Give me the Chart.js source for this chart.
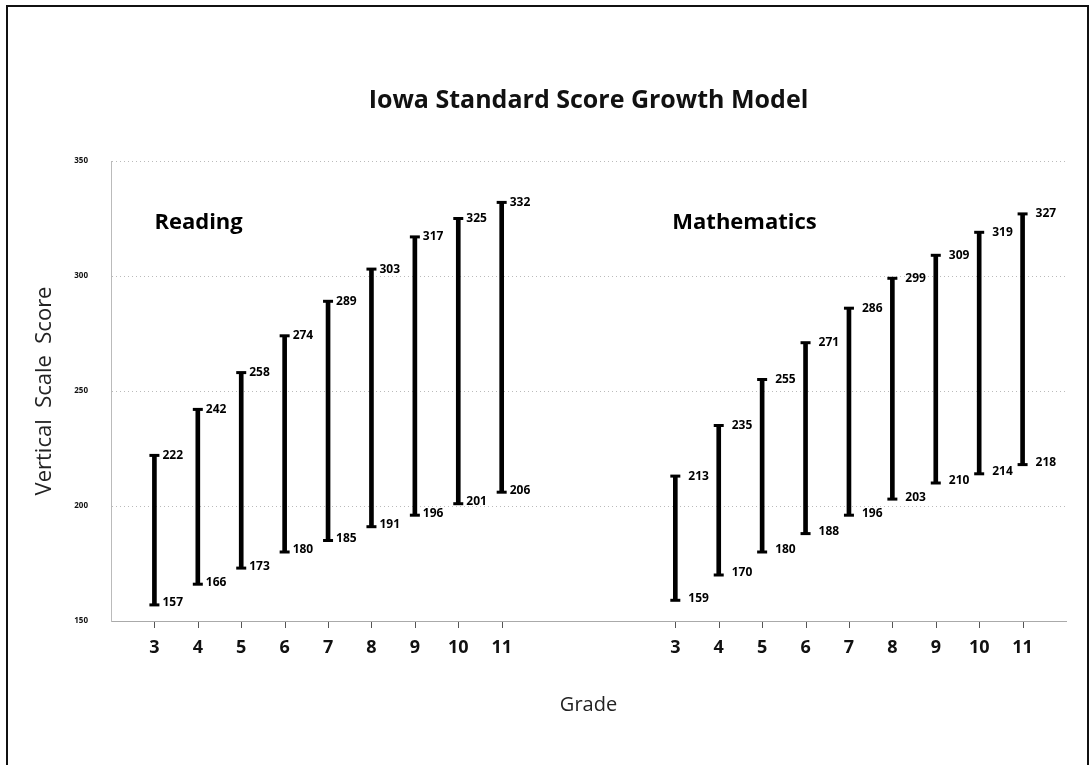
<!DOCTYPE html>
<html>
<head>
<meta charset="utf-8">
<script src="https://cdn.jsdelivr.net/npm/chart.js@4.4.1/dist/chart.umd.min.js"></script>
<style>
  html, body { margin: 0; padding: 0; background: #fff; overflow: hidden; }
  #frame { position: absolute; left: 6px; top: 5px; width: 1079px; height: 800px; border: 2px solid #111; }
  #wrap { position: absolute; left: 0; top: 0; width: 1091px; height: 765px; }
</style>
</head>
<body>
<div id="frame"></div>
<div id="wrap"><canvas id="growthChart"></canvas></div>
<script>
// Grades and score ranges
const grades = ['3', '4', '5', '6', '7', '8', '9', '10', '11'];
const readingLow = [157, 166, 173, 180, 185, 191, 196, 201, 206];
const readingHigh = [222, 242, 258, 274, 289, 303, 317, 325, 332];
const mathLow = [159, 170, 180, 188, 196, 203, 210, 214, 218];
const mathHigh = [213, 235, 255, 271, 286, 299, 309, 319, 327];
const yTicks = [150, 200, 250, 300, 350];

// category slots: blank, reading grades, gap, math grades, blank
const gap = ['', '', ''];
const labels = [''].concat(grades, gap, grades, ['']);
const pad = arr => [null].concat(arr, [null, null, null]);
const build = (r, m) => pad(r).concat(m, [null]);

const ranges = build(readingLow.map((v, i) => [v, readingHigh[i]]), mathLow.map((v, i) => [v, mathHigh[i]]));
const tops = build(readingHigh, mathHigh);
const bottoms = build(readingLow, mathLow);
const mathStart = 1 + grades.length + gap.length;

const font = "'Open Sans', 'Noto Sans', sans-serif";

// value labels beside each bar end, subject headings, small grade ticks
const valueLabels = {
    id: 'valueLabels',
    afterDraw(chart) {
        const { ctx, scales, chartArea } = chart;
        const meta = chart.getDatasetMeta(0);
        ctx.save();
        ctx.setLineDash([]);
        // tick marks under the grade axis
        ctx.strokeStyle = '#555';
        ctx.lineWidth = 1;
        labels.forEach((l, i) => {
            if (!l) return;
            const x = Math.round(scales.x.getPixelForValue(i)) + 0.5;
            ctx.beginPath();
            ctx.moveTo(x, chartArea.bottom + 1);
            ctx.lineTo(x, chartArea.bottom + 7);
            ctx.stroke();
        });
        ctx.fillStyle = '#000';
        ctx.textBaseline = 'middle';
        ctx.textAlign = 'left';
        ctx.font = "bold 12px " + font;
        meta.data.forEach((bar, i) => {
            const d = ranges[i];
            if (!d) return;
            const off = i >= mathStart ? 13 : 8;
            ctx.fillText(String(d[1]), bar.x + off, scales.y.getPixelForValue(d[1]));
            ctx.fillText(String(d[0]), bar.x + off, scales.y.getPixelForValue(d[0]) - 2);
        });
        ctx.font = "bold 22px " + font;
        const yh = scales.y.getPixelForValue(323);
        ctx.fillText('Reading', scales.x.getPixelForValue(1), yh);
        ctx.fillText('Mathematics', scales.x.getPixelForValue(mathStart) - 3, yh);
        ctx.restore();
    }
};

const ctx = document.getElementById('growthChart').getContext('2d');
new Chart(ctx, {
    type: 'bar',
    data: {
        labels: labels,
        datasets: [
            {
                label: 'Range',
                data: ranges,
                backgroundColor: '#000',
                barThickness: 4,
                order: 2
            },
            {
                type: 'line',
                label: 'High',
                data: tops,
                showLine: false,
                pointStyle: 'line',
                pointRadius: 5,
                pointBorderWidth: 3,
                borderColor: '#000',
                order: 1
            },
            {
                type: 'line',
                label: 'Low',
                data: bottoms,
                showLine: false,
                pointStyle: 'line',
                pointRadius: 5,
                pointBorderWidth: 3,
                borderColor: '#000',
                order: 1
            }
        ]
    },
    options: {
        responsive: true,
        maintainAspectRatio: false,
        animation: false,
        layout: { padding: { left: 11, right: 25, top: 0, bottom: 0 } },
        plugins: {
            legend: { display: false },
            tooltip: { enabled: false },
            title: {
                display: true,
                text: 'Iowa Standard Score Growth Model',
                fullSize: false,
                color: '#111',
                font: { family: font, size: 25, weight: 'bold' },
                padding: { top: 86, bottom: 45 }
            }
        },
        scales: {
            x: {
                offset: false,
                afterFit: s => { s.height = 144; },
                grid: {
                    drawOnChartArea: false,
                    drawTicks: true,
                    tickLength: 6,
                    tickColor: 'rgba(0,0,0,0)'
                },
                border: { display: true, color: '#aaa', dash: [1, 2] },
                ticks: {
                    autoSkip: false,
                    maxRotation: 0,
                    padding: 10,
                    color: '#111',
                    font: { family: font, size: 18, weight: 'bold' }
                },
                title: {
                    display: true,
                    text: 'Grade',
                    color: '#222',
                    font: { family: font, size: 20 },
                    padding: { bottom: 48 }
                }
            },
            y: {
                min: 150,
                max: 350,
                afterFit: s => { s.width = 100; },
                afterBuildTicks: s => { s.ticks = yTicks.map(v => ({ value: v })); },
                grid: { color: '#bbb', drawTicks: false },
                border: { display: true, color: '#bbb', dash: [1, 3] },
                ticks: {
                    padding: 23,
                    color: '#111',
                    font: { family: font, size: 8, weight: 'bold' }
                },
                title: {
                    display: true,
                    text: 'Vertical  Scale  Score',
                    color: '#222',
                    font: { family: font, size: 22 },
                    padding: { top: 21 }
                }
            }
        }
    },
    plugins: [valueLabels]
});
</script>
</body>
</html>
